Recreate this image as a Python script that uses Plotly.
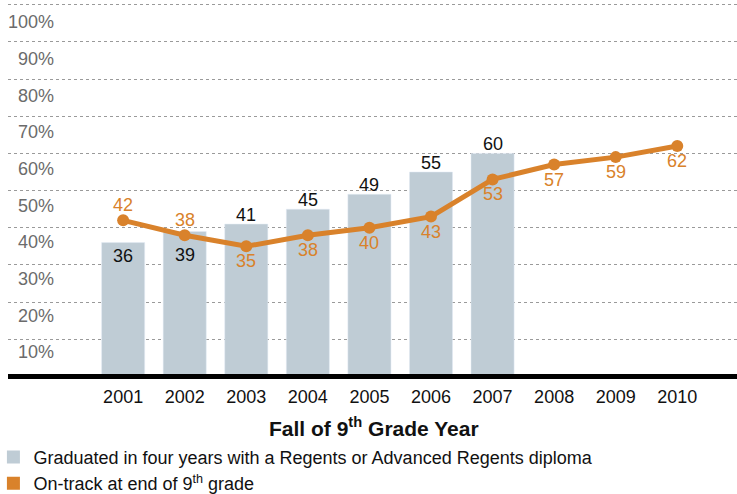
import plotly.graph_objects as go

years = ["2001", "2002", "2003", "2004", "2005", "2006", "2007", "2008", "2009", "2010"]
grad_years = ["2001", "2002", "2003", "2004", "2005", "2006", "2007"]
graduated = [36, 39, 41, 45, 49, 55, 60]
on_track = [42, 38, 35, 38, 40, 43, 53, 57, 59, 62]
y_ticks = [10, 20, 30, 40, 50, 60, 70, 80, 90, 100]
y_tick_labels = ["10%", "20%", "30%", "40%", "50%", "60%", "70%", "80%", "90%", "100%"]

legend_grad = "Graduated in four years with a Regents or Advanced Regents diploma"
legend_track = "On-track at end of 9<sup>th</sup> grade"
x_title = "<b>Fall of 9<sup>th</sup> Grade Year</b>"

BAR = "#bfccd5"
ORANGE = "#d9822b"
FONT = "Liberation Sans, Arial, sans-serif"
FS = 18

fig = go.Figure()

fig.add_trace(go.Bar(
    x=grad_years, y=graduated, marker_color=BAR, width=0.70,
    showlegend=False, hoverinfo="skip",
))

fig.add_trace(go.Scatter(
    x=years, y=on_track, mode="lines+markers",
    line=dict(color=ORANGE, width=5), marker=dict(color=ORANGE, size=12),
    showlegend=False, hoverinfo="skip",
))

# legend entries (square swatches)
fig.add_trace(go.Scatter(x=[None], y=[None], mode="markers", name=legend_grad,
                         marker=dict(symbol="square", size=13, color=BAR)))
fig.add_trace(go.Scatter(x=[None], y=[None], mode="markers", name=legend_track,
                         marker=dict(symbol="square", size=13, color=ORANGE)))

annotations = []
bar_shift = [-13, -24, 9, 9, 9, 9, 9]
for i, (v, s) in enumerate(zip(graduated, bar_shift)):
    annotations.append(dict(x=i, y=v, xref="x", yref="y", text=str(v), showarrow=False,
                            yshift=s, yanchor="middle",
                            font=dict(size=FS, color="#111111", family=FONT)))
line_shift = [15, 15] + [-15] * 8
for i, (v, s) in enumerate(zip(on_track, line_shift)):
    annotations.append(dict(x=i, y=v, xref="x", yref="y", text=str(v), showarrow=False,
                            yshift=s, yanchor="middle",
                            font=dict(size=FS, color=ORANGE, family=FONT)))
for v, lab in zip(y_ticks, y_tick_labels):
    annotations.append(dict(x=(56 - 8) / 729, y=v, xref="paper", yref="y", text=lab,
                            showarrow=False, xanchor="right", yanchor="middle",
                            yshift=-(13 + (v - 10) * 0.05),
                            font=dict(size=FS, color="#6b6b6b", family=FONT)))
annotations.append(dict(x=(374 - 8) / 729, y=-45 / 381, xref="paper", yref="paper",
                        text=x_title, showarrow=False, xanchor="center", yanchor="middle",
                        font=dict(size=21, color="#111111", family=FONT)))

fig.update_layout(
    width=737, height=494,
    margin=dict(l=8, r=0, t=1, b=112, autoexpand=False),
    plot_bgcolor="white", paper_bgcolor="white",
    font=dict(family=FONT, size=FS, color="#111111"),
    xaxis=dict(type="category", range=[-1.87, 9.97], showgrid=False, zeroline=False,
               showline=False, ticks="", tickfont=dict(size=FS, color="#111111"),
               ticklabelstandoff=2, fixedrange=True),
    yaxis=dict(range=[-1.5, 101], tickvals=[0] + y_ticks, showticklabels=False,
               showgrid=True, gridcolor="#9a9a9a", gridwidth=1, griddash="dot",
               zeroline=False, showline=False, fixedrange=True),
    legend=dict(x=-0.02, y=-0.149, xanchor="left", yanchor="top", orientation="v",
                font=dict(size=18, color="#111111", family=FONT),
                bgcolor="rgba(0,0,0,0)", itemwidth=30, tracegroupgap=0),
    shapes=[dict(type="line", xref="paper", yref="y", x0=0, x1=1, y0=0, y1=0,
                 line=dict(color="black", width=5), layer="above")],
    annotations=annotations,
)

fig.write_html("out.html")
